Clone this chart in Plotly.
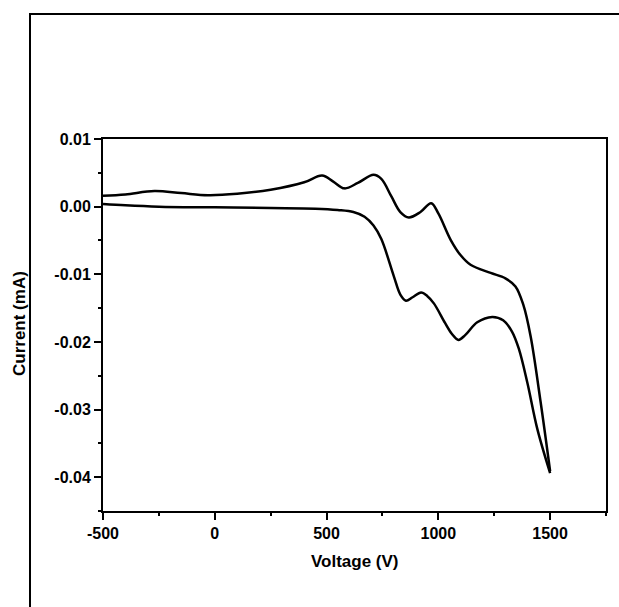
import plotly.graph_objects as go

# Forward sweep (lower branch)
v_fwd = [-500, -400, -250, 0, 250, 450, 550, 620, 670, 710, 745, 801, 830, 855, 885,
         923, 950, 980, 1030, 1060, 1090, 1120, 1174, 1241, 1290, 1330, 1360, 1398, 1443, 1500]
i_fwd = [0.0004, 0.0002, 0.0000, -0.0001, -0.0002, -0.0003, -0.0005, -0.0008, -0.0015, -0.0028,
         -0.0048, -0.0103, -0.0130, -0.0139, -0.0134, -0.0127, -0.0132, -0.0143, -0.0172,
         -0.0188, -0.0197, -0.0190, -0.0171, -0.0163, -0.0168, -0.0185, -0.0210, -0.0260, -0.0329,
         -0.0394]

# Reverse sweep (upper branch)
v_rev = [-500, -400, -270, -150, -30, 100, 250, 400, 480, 530, 580, 640, 710, 745, 790, 830,
         868, 920, 968, 1000, 1055, 1100, 1144, 1234, 1300, 1345, 1380, 1413, 1458, 1500]
i_rev = [0.0016, 0.0018, 0.0023, 0.0020, 0.0017, 0.0019, 0.0025, 0.0036, 0.0046, 0.0037,
         0.0027, 0.0035, 0.0047, 0.0041, 0.0015, -0.0008, -0.0016, -0.0008, 0.0005, -0.0010,
         -0.0049, -0.0072, -0.0086, -0.0098, -0.0106, -0.0118, -0.0145, -0.0192, -0.0290, -0.0391]

x_ticks = [-500, 0, 500, 1000, 1500]
x_tick_text = ["-500", "0", "500", "1000", "1500"]
x_minor = [-250, 250, 750, 1250, 1750]
y_ticks = [0.01, 0.0, -0.01, -0.02, -0.03, -0.04]
y_tick_text = ["0.01", "0.00", "-0.01", "-0.02", "-0.03", "-0.04"]
y_minor = [0.005, -0.005, -0.015, -0.025, -0.035, -0.045]

FONT = "Liberation Sans, Arial, sans-serif"

fig = go.Figure()
for xs, ys in [(v_fwd, i_fwd), (v_rev, i_rev)]:
    fig.add_trace(go.Scatter(x=xs, y=ys, mode="lines",
                             line=dict(color="black", width=2.5, shape="spline", smoothing=1.0),
                             showlegend=False, hoverinfo="skip"))

L, R, T, B = 103, 13, 139, 96
W, H = 619, 607
pw, ph = W - L - R, H - T - B

axis_common = dict(showline=True, linecolor="black", linewidth=2, mirror=True,
                   ticks="outside", ticklen=7, tickwidth=2, tickcolor="black",
                   showgrid=False, zeroline=False,
                   tickfont=dict(family=FONT, size=16, color="black", weight="bold"))

fig.update_xaxes(range=[-500, 1750], tickmode="array", tickvals=x_ticks, ticktext=x_tick_text,
                 minor=dict(tickvals=x_minor, ticks="outside", ticklen=3, tickwidth=2, tickcolor="black"),
                 **axis_common)
fig.update_yaxes(range=[-0.045, 0.01], tickmode="array", tickvals=y_ticks, ticktext=y_tick_text,
                 minor=dict(tickvals=y_minor, ticks="outside", ticklen=3, tickwidth=2, tickcolor="black"),
                 **axis_common)

def px_x(p):
    return (p - L) / pw

def px_y(p):
    return (H - B - p) / ph

fig.add_annotation(text="Voltage (V)", xref="paper", yref="paper", x=px_x(354.5), y=px_y(561),
                   showarrow=False, xanchor="center", yanchor="middle",
                   font=dict(family=FONT, size=17, color="black", weight="bold"))
fig.add_annotation(text="Current (mA)", xref="paper", yref="paper", x=px_x(19), y=px_y(324),
                   showarrow=False, xanchor="center", yanchor="middle", textangle=-90,
                   font=dict(family=FONT, size=17, color="black", weight="bold"))

# outer frame
fig.add_shape(type="rect", xref="paper", yref="paper",
              x0=px_x(30), x1=px_x(640), y0=px_y(640), y1=px_y(14),
              line=dict(color="black", width=2), fillcolor="rgba(0,0,0,0)", layer="above")

fig.update_layout(width=W, height=H, margin=dict(l=L, r=R, t=T, b=B),
                  paper_bgcolor="white", plot_bgcolor="white")

fig.write_html("out.html")
